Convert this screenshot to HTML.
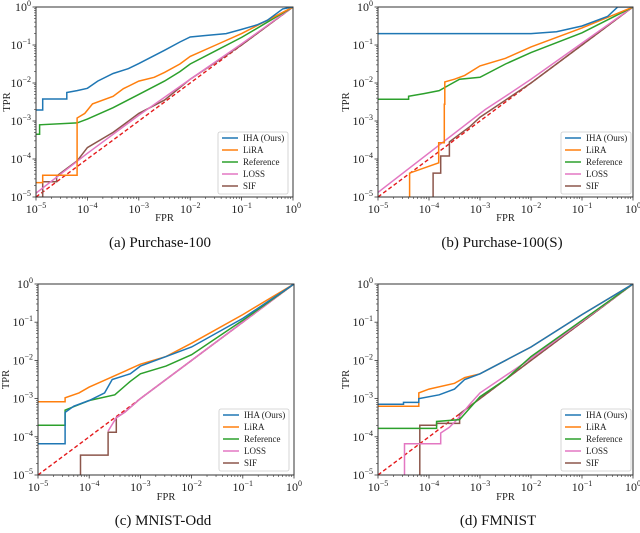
<!DOCTYPE html>
<html><head><meta charset="utf-8">
<style>
html,body{margin:0;padding:0;background:#fff;}
svg, svg text{font-family:"Liberation Serif","Times New Roman","DejaVu Serif",serif;}
</style></head>
<body>
<svg id="fig" width="640" height="528" viewBox="0 0 640 528" xmlns="http://www.w3.org/2000/svg" font-family="Liberation Serif, serif"></svg>
<script>
// ---- data (log10 FPR, log10 TPR) ----
const decadeTicks = [-5,-4,-3,-2,-1,0];
const seriesNames = ["IHA (Ours)","LiRA","Reference","LOSS","SIF"];
const seriesColors = ["#1f77b4","#ff7f0e","#2ca02c","#e377c2","#8c564b"];
const panelCaptions = ["(a) Purchase-100","(b) Purchase-100(S)","(c) MNIST-Odd","(d) FMNIST"];

const ihaA = [[-5,-2.71],[-4.87,-2.71],[-4.87,-2.42],[-4.4,-2.42],[-4.4,-2.25],[-4.2,-2.2],[-4,-2.14],[-3.8,-1.95],[-3.5,-1.75],[-3.2,-1.62],[-3,-1.49],[-2.5,-1.14],[-2.2,-0.92],[-2,-0.79],[-1.7,-0.75],[-1.3,-0.7],[-1,-0.59],[-0.7,-0.47],[-0.5,-0.35],[-0.2,-0.05],[0,0]];
const liraA = [[-5,-4.62],[-4.87,-4.62],[-4.87,-4.43],[-4.2,-4.43],[-4.2,-2.92],[-4.05,-2.8],[-3.9,-2.55],[-3.5,-2.35],[-3.3,-2.15],[-3,-1.95],[-2.7,-1.85],[-2.5,-1.72],[-2.2,-1.5],[-2,-1.3],[-1.5,-1.0],[-1,-0.7],[-0.5,-0.35],[0,0]];
const refA = [[-5,-3.35],[-4.93,-3.35],[-4.93,-3.1],[-4.2,-3.05],[-4,-2.95],[-3.5,-2.65],[-3,-2.3],[-2.5,-1.95],[-2.2,-1.7],[-2,-1.5],[-1.5,-1.15],[-1,-0.8],[-0.5,-0.4],[0,0]];
const lossA = [[-5,-4.9],[-4,-3.85],[-3,-2.85],[-2,-1.9],[-1,-0.97],[0,0]];
const sifA = [[-4.87,-5],[-4.87,-4.6],[-4.6,-4.6],[-4.6,-4.45],[-4.4,-4.25],[-4.2,-4.05],[-4,-3.7],[-3.5,-3.3],[-3,-2.8],[-2.5,-2.45],[-2,-1.9],[-1,-1],[0,0]];

const ihaB = [[-5,-0.7],[-2,-0.7],[-1.5,-0.65],[-1,-0.5],[-0.5,-0.25],[-0.3,0],[0,0]];
const liraB = [[-4.38,-5],[-4.38,-4.37],[-3.81,-4.1],[-3.81,-3.57],[-3.7,-3.57],[-3.7,-2.56],[-3.69,-2.56],[-3.69,-1.97],[-3.5,-1.9],[-3.3,-1.8],[-3,-1.55],[-2.5,-1.35],[-2,-1.05],[-1,-0.55],[0,0]];
const refB = [[-5,-2.43],[-4.4,-2.43],[-4.4,-2.35],[-4.1,-2.28],[-3.8,-2.2],[-3.6,-2.05],[-3.4,-1.9],[-3,-1.85],[-2.5,-1.5],[-2,-1.2],[-1,-0.68],[0,0]];
const lossB = [[-5,-4.88],[-2.9,-2.7],[-2.5,-2.35],[-2,-1.9],[-1,-0.95],[0,0]];
const sifB = [[-3.92,-5],[-3.92,-4.37],[-3.77,-4.37],[-3.77,-3.92],[-3.6,-3.92],[-3.6,-3.55],[-3.45,-3.4],[-3.2,-3.15],[-3,-2.9],[-2.5,-2.45],[-2,-2],[-1,-1],[0,0]];

const ihaC = [[-5,-4.18],[-4.47,-4.18],[-4.47,-3.36],[-4.3,-3.2],[-4,-3.05],[-3.7,-2.85],[-3.55,-2.5],[-3.2,-2.35],[-3,-2.15],[-2.5,-1.9],[-2,-1.65],[-1,-0.9],[0,0]];
const liraC = [[-5,-3.08],[-4.47,-3.08],[-4.47,-2.98],[-4.2,-2.85],[-4,-2.7],[-3.5,-2.4],[-3,-2.1],[-2.5,-1.9],[-2,-1.55],[-1,-0.8],[0,0]];
const refC = [[-5,-3.7],[-4.47,-3.7],[-4.47,-3.3],[-4,-3.05],[-3.5,-2.9],[-3.2,-2.55],[-3,-2.35],[-2.5,-2.15],[-2,-1.85],[-1,-0.95],[0,0]];
const lossC = [[-3.63,-3.85],[-3.47,-3.5],[-3.3,-3.35],[-3,-3],[-2,-2],[0,0]];
const sifC = [[-4.17,-5],[-4.17,-4.48],[-3.63,-4.48],[-3.63,-3.88],[-3.47,-3.88],[-3.47,-3.5],[-3.3,-3.35],[-3,-3],[-2,-2],[0,0]];

const ihaD = [[-5,-3.15],[-4.5,-3.15],[-4.5,-3.1],[-4.2,-3.1],[-4.2,-3.0],[-3.8,-2.9],[-3.5,-2.75],[-3.3,-2.5],[-3,-2.35],[-2.5,-2],[-2,-1.65],[-1,-0.8],[0,0]];
const liraD = [[-5,-3.2],[-4.2,-3.2],[-4.2,-2.85],[-4,-2.75],[-3.5,-2.6],[-3.3,-2.45],[-3,-2.35],[-2.5,-2],[-2,-1.65],[-1,-0.8],[0,0]];
const refD = [[-5,-3.78],[-3.85,-3.78],[-3.85,-3.6],[-3.4,-3.55],[-3.2,-3.25],[-3,-2.95],[-2.5,-2.5],[-2,-1.9],[-1,-0.95],[0,0]];
const lossD = [[-4.48,-5],[-4.48,-4.18],[-3.77,-4.18],[-3.77,-3.9],[-3.6,-3.75],[-3.45,-3.55],[-3.2,-3.15],[-3,-2.85],[-2,-1.95],[0,0]];
const sifD = [[-4.18,-5],[-4.18,-3.7],[-3.85,-3.7],[-3.85,-3.65],[-3.4,-3.65],[-3.4,-3.4],[-3,-3],[0,0]];

const panels = [
 {x0:36,x1:293,y0:7,y1:197,series:[ihaA,liraA,refA,lossA,sifA],cap:[160,247],fpr:221,tprx:10,leg:[218,132]},
 {x0:378,x1:633,y0:7,y1:197,series:[ihaB,liraB,refB,lossB,sifB],cap:[502,247],fpr:221,tprx:349,leg:[561,132]},
 {x0:38,x1:294,y0:284,y1:475,series:[ihaC,liraC,refC,lossC,sifC],cap:[163,525],fpr:500,tprx:9,leg:[219,409]},
 {x0:378,x1:633,y0:284,y1:475,series:[ihaD,liraD,refD,lossD,sifD],cap:[498,525],fpr:500,tprx:349,leg:[561,409]}
];
const FF='Liberation Serif, Times New Roman, serif';
const NS="http://www.w3.org/2000/svg";
const svg=document.getElementById('fig');
function mk(tag,attrs,parent){const e=document.createElementNS(NS,tag);for(const k in attrs)e.setAttribute(k,attrs[k]);if(tag==='text')e.setAttribute('font-family',FF);(parent||svg).appendChild(e);return e;}
const letters=['a','b','c','d'];
panels.forEach((p,pi)=>{
  const g=mk('g',{});
  
  
  const sx=v=>p.x0+(v+5)/5*(p.x1-p.x0);
  const sy=v=>p.y1-(v+5)/5*(p.y1-p.y0);
  const clip=mk('clipPath',{id:'clip'+pi},g);
  mk('rect',{x:p.x0,y:p.y0,width:p.x1-p.x0,height:p.y1-p.y0},clip);
  decadeTicks.forEach(t=>{
    mk('line',{x1:sx(t),x2:sx(t),y1:p.y1,y2:p.y1+3.5,stroke:'#333','stroke-width':0.8},g);
    mk('line',{x1:p.x0-3.5,x2:p.x0,y1:sy(t),y2:sy(t),stroke:'#333','stroke-width':0.8},g);
    if(t<0){for(let m=2;m<10;m++){const o=Math.log10(m);
      mk('line',{x1:sx(t+o),x2:sx(t+o),y1:p.y1,y2:p.y1+2,stroke:'#333','stroke-width':0.6},g);
      mk('line',{x1:p.x0-2,x2:p.x0,y1:sy(t+o),y2:sy(t+o),stroke:'#333','stroke-width':0.6},g);}}
    const xl=mk('text',{x:sx(t),y:p.y1+16,'font-size':12,'text-anchor':'middle',fill:'#222'},g);
    
    
    xl.innerHTML='10<tspan dy="-5" font-size="8">'+(t<0?'−'+(-t):'0')+'</tspan>';
    const yl=mk('text',{x:p.x0-5,y:sy(t)+4,'font-size':12,'text-anchor':'end',fill:'#222'},g);
    
    
    yl.innerHTML='10<tspan dy="-5" font-size="8">'+(t<0?'−'+(-t):'0')+'</tspan>';
  });
  const dg=mk('line',{x1:sx(-5),y1:sy(-5),x2:sx(0),y2:sy(0),stroke:'#e41a1c','stroke-width':1.4,'stroke-dasharray':'4,2.5','clip-path':'url(#clip'+pi+')'},g);
  
  
  for(let si=p.series.length-1;si>=0;si--){
    const pts=p.series[si].map(d=>sx(d[0]).toFixed(1)+','+sy(d[1]).toFixed(1)).join(' ');
    const pl=mk('polyline',{points:pts,fill:'none',stroke:seriesColors[si],'stroke-width':1.5,'clip-path':'url(#clip'+pi+')'},g);
    
    
  }
  mk('rect',{x:p.x0,y:p.y0,width:p.x1-p.x0,height:p.y1-p.y0,fill:'none',stroke:'#333','stroke-width':1},g);
  const lg=mk('g',{},g);
  
  
  mk('rect',{x:p.leg[0],y:p.leg[1],width:70,height:62,rx:2,fill:'#fff','fill-opacity':0.85,stroke:'#ccc','stroke-width':0.8},lg);
  seriesNames.forEach((n,i)=>{
    const yy=p.leg[1]+6+i*12;
    mk('line',{x1:p.leg[0]+4,x2:p.leg[0]+20,y1:yy,y2:yy,stroke:seriesColors[i],'stroke-width':1.5},lg);
    const tx=mk('text',{x:p.leg[0]+25,y:yy+3,'font-size':9,fill:'#222'},lg);
    
    
    tx.textContent=n;
  });
  const fl=mk('text',{x:(p.x0+p.x1)/2,y:p.fpr,'font-size':10.5,'text-anchor':'middle',fill:'#222'},g);
  
  
  fl.textContent='FPR';
  const tl=mk('text',{x:p.tprx,y:(p.y0+p.y1)/2,'font-size':10.5,'text-anchor':'middle',fill:'#222',transform:'rotate(-90 '+p.tprx+' '+(p.y0+p.y1)/2+')'},g);
  
  
  tl.textContent='TPR';
  const cp=mk('text',{x:p.cap[0],y:p.cap[1],'font-size':15,'text-anchor':'middle',fill:'#111'},g);
  
  
  cp.textContent=panelCaptions[pi];
});
</script>
</body></html>
